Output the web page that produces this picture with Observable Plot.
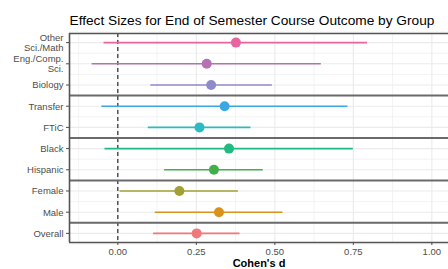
<!DOCTYPE html>
<html>
<head>
<meta charset="utf-8">
<script src="https://cdn.jsdelivr.net/npm/d3@7"></script>
<script src="https://cdn.jsdelivr.net/npm/@observablehq/plot@0.6"></script>
<style>
  html, body { margin: 0; padding: 0; background: #fff; }
</style>
</head>
<body>
<div id="chart"></div>
<script>
const title = "Effect Sizes for End of Semester Course Outcome by Group";
const xLabel = "Cohen's d";
const categories = ["Other\nSci./Math", "Eng./Comp.\nSci.", "Biology", "Transfer", "FTiC", "Black", "Hispanic", "Female", "Male", "Overall"];
const groups = ["Discipline", "Discipline", "Discipline", "Admission", "Admission", "Race", "Race", "Gender", "Gender", "Overall"];
const estimates = [0.376, 0.283, 0.297, 0.340, 0.260, 0.354, 0.306, 0.196, 0.322, 0.251];
const lower =     [-0.044, -0.082, 0.105, -0.051, 0.097, -0.041, 0.149, 0.007, 0.119, 0.114];
const upper =     [0.795, 0.648, 0.492, 0.733, 0.424, 0.750, 0.463, 0.384, 0.526, 0.389];
const colors = ["#E8649F", "#B670B4", "#8F8BCA", "#3AA9E2", "#2CBBC4", "#1FBB80", "#40B04A", "#A2A034", "#D9921D", "#F1787A"];
const xTicks = [0, 0.25, 0.5, 0.75, 1];
const xMinor = [-0.125, 0.125, 0.375, 0.625, 0.875];

const n = categories.length;
const data = categories.map((c, i) => ({
  label: c, pos: n - i, est: estimates[i], lo: lower[i], hi: upper[i], color: colors[i]
}));
const rowPos = data.map(d => d.pos);
const halfPos = data.map(d => d.pos + 0.5).concat([0.5]);
const dividers = [];
for (let i = 1; i < n; i++) if (groups[i] !== groups[i - 1]) dividers.push(n - i + 0.5);

const yDomain = [0.57, n + 0.43];
const xDomain = [-0.154, 1.053];

const chart = Plot.plot({
  width: 448,
  height: 269,
  marginLeft: 69,
  marginRight: 0,
  marginTop: 33,
  marginBottom: 27,
  style: { fontFamily: "'Liberation Sans', Arial, sans-serif", background: "#fff" },
  x: { domain: xDomain, label: null },
  y: { domain: yDomain, label: null },
  marks: [
    Plot.ruleX(xMinor, { stroke: "#EBEBEB", strokeWidth: 0.6 }),
    Plot.ruleX(xTicks, { stroke: "#EBEBEB", strokeWidth: 1.1 }),
    Plot.ruleY(halfPos, { stroke: "#EBEBEB", strokeWidth: 0.6 }),
    Plot.ruleY(rowPos, { stroke: "#EBEBEB", strokeWidth: 1.1 }),
    Plot.ruleX([0], { stroke: "#000", strokeWidth: 1, strokeDasharray: "4,3" }),
    Plot.ruleY(dividers, { stroke: "#6a6a6a", strokeWidth: 2 }),
    Plot.ruleY(data, { y: "pos", x1: "lo", x2: "hi", stroke: "color", strokeWidth: 1.6 }),
    Plot.dot(data, { x: "est", y: "pos", fill: "color", r: 5 }),
    Plot.ruleX([xDomain[0]], { stroke: "#555", strokeWidth: 1.6 }),
    Plot.ruleY([yDomain[0], yDomain[1]], { stroke: "#555", strokeWidth: 1.6 }),
    Plot.axisY({
      ticks: rowPos,
      tickFormat: p => categories[n - p],
      tickSize: 3,
      tickPadding: 3,
      fontSize: 9.5,
      color: "#4D4D4D",
      lineHeight: 1.1,
      label: null
    }),
    Plot.axisX({
      ticks: xTicks,
      tickFormat: d3.format(".2f"),
      tickSize: 3,
      tickPadding: 3,
      fontSize: 9.5,
      color: "#4D4D4D",
      label: null
    }),
    Plot.text([xLabel], { frameAnchor: "bottom", dy: 21, lineAnchor: "middle", fontWeight: "bold", fontSize: 11, fill: "#000" }),
    Plot.text([title], { frameAnchor: "top-left", dy: -13, lineAnchor: "middle", textAnchor: "start", fontSize: 13.7, fill: "#000" })
  ]
});
document.getElementById("chart").appendChild(chart);
</script>
</body>
</html>
